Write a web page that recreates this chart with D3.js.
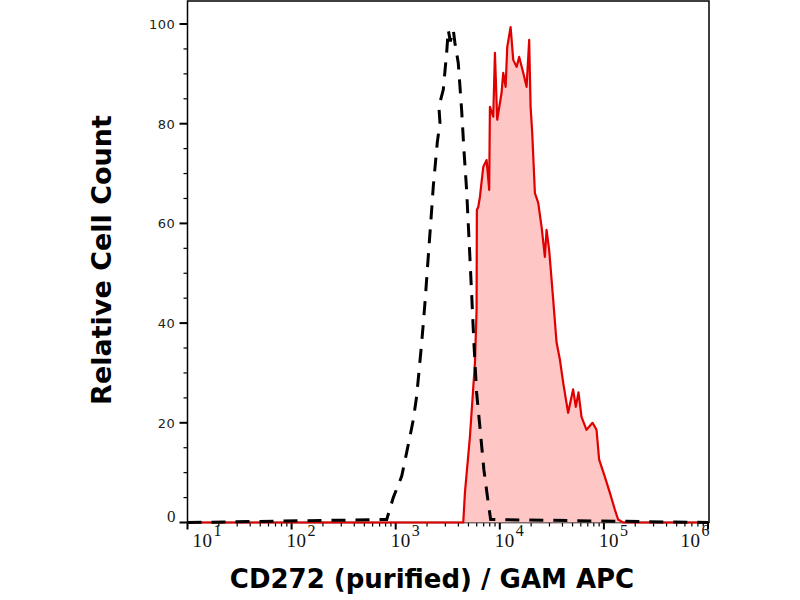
<!DOCTYPE html>
<html lang="en">
<head>
    <meta charset="UTF-8">
    <script src="https://d3js.org/d3.v7.min.js"></script>
    <title>CD272 histogram</title>
    <style>
        body { margin: 0; background: #fff; }
    </style>
</head>
<body>
    <svg id="chart" width="800" height="600"></svg>
    <script>
        // isotype control (dashed black)
        const isoX = [10, 820, 948, 1143, 1372, 1475, 1589, 1778, 1911, 2056, 2215, 2296, 2508, 2661, 2600, 2864, 3086, 3199, 3350, 3575, 3707, 3989, 4298, 4525, 4800, 5083, 5358, 5638, 5985, 6439, 7031, 7738, 8165, 1000000];
        const isoCount = [0, 0.6, 5.0, 9.3, 17.3, 20.6, 25.3, 36.1, 44.1, 53.4, 62.7, 67.4, 76.2, 80.2, 83.5, 86.8, 94.2, 98.8, 96.5, 98.8, 96.2, 92.2, 82.8, 74.7, 66.7, 56.1, 46.1, 36.1, 26.1, 19.2, 10.6, 4.0, 0.6, 0];

        // CD272 stained sample (red, filled)
        const stainX = [10, 4457, 4624, 5164, 5768, 5985, 6020, 6209, 6441, 6934, 7468, 7909, 8035, 8648, 8979, 9441, 10400, 10790, 11380, 11790, 12700, 13460, 14500, 15360, 16790, 18090, 19150, 19760, 20480, 21730, 23390, 25200, 27100, 28130, 29790, 32580, 35100, 37760, 40590, 45330, 50610, 53710, 57000, 60940, 68050, 77780, 84960, 89990, 102000, 114000, 127400, 136900, 152800, 1000000];
        const stainCount = [0, 0, 6.0, 17.2, 32.0, 42.7, 62.7, 63.3, 65.3, 71.3, 72.7, 66.7, 83.4, 81.4, 94.2, 80.8, 86.2, 90.2, 87.4, 95.4, 99.4, 92.8, 91.4, 93.4, 90.2, 87.4, 96.8, 83.4, 78.2, 66.1, 64.1, 59.3, 53.3, 58.7, 54.7, 44.7, 36.1, 32.7, 28.1, 22.0, 26.7, 23.2, 26.1, 21.2, 18.6, 20.0, 18.6, 12.6, 9.2, 6.0, 2.6, 0.6, 0, 0];

        const xMajor = [1, 2, 3, 4, 5, 6];
        const yMajor = [0, 20, 40, 60, 80, 100];

        const svg = d3.select("#chart");

        const x = d3.scaleLog()
            .domain([10, 1e6])
            .range([187.5, 708]);

        const y = d3.scaleLinear()
            .domain([0, 100])
            .range([522.5, 24]);

        // frame
        svg.append("rect")
            .attr("x", x(10))
            .attr("y", 1)
            .attr("width", x(1e6) - x(10) + 1)
            .attr("height", y(0) - 1)
            .attr("fill", "none")
            .attr("stroke", "#000")
            .attr("stroke-width", 1.5);

        // x ticks (log, minor at 2..9)
        const xMinor = [];
        for (let e = 1; e < 6; e++) {
            for (let m = 2; m < 10; m++) xMinor.push(m * Math.pow(10, e));
        }

        svg.append("g").selectAll("line")
            .data(xMinor)
            .enter().append("line")
            .attr("x1", d => x(d)).attr("x2", d => x(d))
            .attr("y1", y(0)).attr("y2", y(0) + 4)
            .attr("stroke", "#000")
            .attr("stroke-width", 1.2);

        svg.append("g").selectAll("line")
            .data(xMajor)
            .enter().append("line")
            .attr("x1", d => x(Math.pow(10, d))).attr("x2", d => x(Math.pow(10, d)))
            .attr("y1", y(0)).attr("y2", y(0) + 7)
            .attr("stroke", "#000")
            .attr("stroke-width", 2);

        // first and last labels are pushed inside the frame
        const xLab = svg.append("g").selectAll("text")
            .data(xMajor)
            .enter().append("text")
            .attr("x", d => {
                const px = x(Math.pow(10, d));
                if (d === 1) return px + 5;
                if (d === 6) return px + 2;
                return px - 5;
            })
            .attr("y", 547)
            .attr("text-anchor", d => d === 6 ? "end" : "start")
            .attr("font-family", "Liberation Serif, serif")
            .attr("font-size", 19)
            .attr("letter-spacing", 0.5)
            .attr("fill", "#111");
        xLab.append("tspan").text("10");
        xLab.append("tspan")
            .attr("dy", -11)
            .attr("dx", 1)
            .attr("font-size", 16)
            .text(d => d);

        // y ticks
        const yMinor = d3.range(5, 101, 5).filter(v => v % 20 !== 0);

        svg.append("g").selectAll("line")
            .data(yMinor)
            .enter().append("line")
            .attr("x1", x(10) - 4).attr("x2", x(10))
            .attr("y1", d => y(d)).attr("y2", d => y(d))
            .attr("stroke", "#000")
            .attr("stroke-width", 1.2);

        svg.append("g").selectAll("line")
            .data(yMajor)
            .enter().append("line")
            .attr("x1", x(10) - 8).attr("x2", x(10))
            .attr("y1", d => y(d)).attr("y2", d => y(d))
            .attr("stroke", "#000")
            .attr("stroke-width", 2);

        svg.append("g").selectAll("text")
            .data(yMajor)
            .enter().append("text")
            .attr("x", x(10) - 12)
            .attr("y", d => d === 0 ? y(d) - 1 : y(d) + 5)
            .attr("text-anchor", "end")
            .attr("font-family", d => d === 0 ? "Liberation Serif, serif" : "DejaVu Sans, sans-serif")
            .attr("font-size", d => d === 0 ? 17 : 13)
            .attr("letter-spacing", d => d === 0 ? 0 : 0.6)
            .attr("fill", "#222")
            .text(d => d);

        // stained histogram
        const stain = stainX.map((v, i) => [v, stainCount[i]]);
        const iso = isoX.map((v, i) => [v, isoCount[i]]);

        svg.append("path")
            .datum(stain)
            .attr("d", d3.area().x(d => x(d[0])).y0(y(0)).y1(d => y(d[1])))
            .attr("fill", "#ffc6c6");

        svg.append("path")
            .datum(stain)
            .attr("d", d3.line().x(d => x(d[0])).y(d => y(d[1])))
            .attr("fill", "none")
            .attr("stroke", "#e00000")
            .attr("stroke-width", 2.2)
            .attr("stroke-linejoin", "round");

        // isotype control
        svg.append("path")
            .datum(iso)
            .attr("d", d3.line().x(d => x(d[0])).y(d => y(d[1])))
            .attr("fill", "none")
            .attr("stroke", "#000")
            .attr("stroke-width", 3)
            .attr("stroke-dasharray", "14,10");

        // axis titles
        svg.append("text")
            .attr("x", 432)
            .attr("y", 588)
            .attr("text-anchor", "middle")
            .attr("font-family", "DejaVu Sans, sans-serif")
            .attr("font-weight", "bold")
            .attr("font-size", 26)
            .attr("fill", "#000")
            .text("CD272 (purified) / GAM APC");

        svg.append("text")
            .attr("transform", "translate(111,260) rotate(-90)")
            .attr("text-anchor", "middle")
            .attr("font-family", "DejaVu Sans, sans-serif")
            .attr("font-weight", "bold")
            .attr("font-size", 27)
            .attr("fill", "#000")
            .text("Relative Cell Count");
    </script>
</body>
</html>
